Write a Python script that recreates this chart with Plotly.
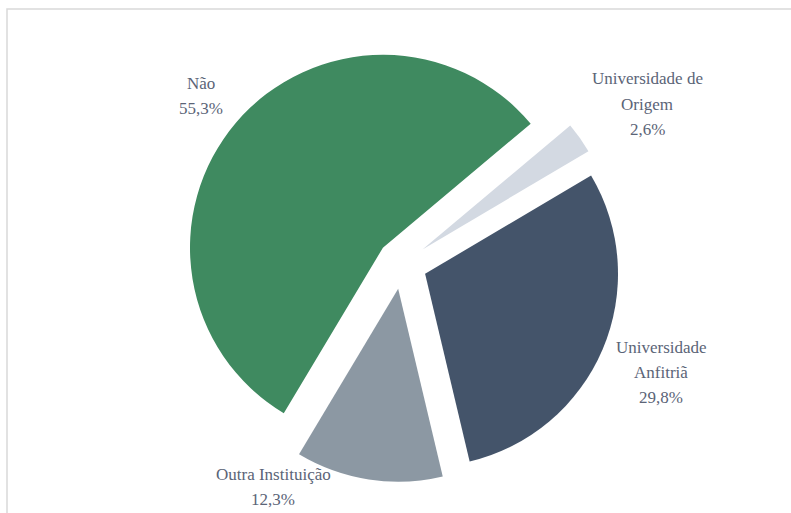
import plotly.graph_objects as go

labels = ["Universidade de Origem", "Universidade Anfitriã", "Outra Instituição", "Não"]
display_labels = ["Universidade de<br>Origem", "Universidade<br>Anfitriã", "Outra Instituição", "Não"]
values = [2.6, 29.8, 12.3, 55.3]
colors = ["#D3D9E2", "#44546A", "#8C98A3", "#3F8A60"]

# label block centres (pixels in a 791x513 canvas) and line spacing
label_px = [(647, 104), (661, 372), (273, 487), (201, 96)]
LINE_GAP = 25

W, H = 791, 513

fig = go.Figure()
fig.add_trace(go.Pie(
    labels=labels,
    values=values,
    sort=False,
    direction="clockwise",
    rotation=50,
    pull=[0.13] * len(values),
    marker=dict(colors=colors, line=dict(width=0)),
    textinfo="none",
    hoverinfo="label+percent",
    showlegend=False,
    domain=dict(x=[184 / W, 620 / W], y=[1 - 482 / H, 1 - 46 / H]),
))

for lab, val, (px, py) in zip(display_labels, values, label_px):
    lines = lab.split("<br>") + [f"{val:.1f}%".replace(".", ",")]
    n = len(lines)
    for i, line in enumerate(lines):
        ly = py + (i - (n - 1) / 2) * LINE_GAP
        fig.add_annotation(
            x=px / W, y=1 - ly / H, xref="paper", yref="paper",
            text=line, showarrow=False, xanchor="center", yanchor="middle",
            font=dict(family="'Times New Roman', 'Liberation Serif', serif", size=17, color="#5B6477"),
        )

fig.add_shape(type="rect", xref="paper", yref="paper",
              x0=7 / W, x1=1.05, y0=-0.05, y1=1 - 9 / H,
              line=dict(color="#D9D9D9", width=1.5), fillcolor="rgba(0,0,0,0)")

fig.update_layout(
    width=W, height=H,
    margin=dict(l=0, r=0, t=0, b=0),
    paper_bgcolor="white", plot_bgcolor="white",
)

fig.write_html("out.html", config={"displayModeBar": False},
               post_script="document.body.style.margin='0';")
